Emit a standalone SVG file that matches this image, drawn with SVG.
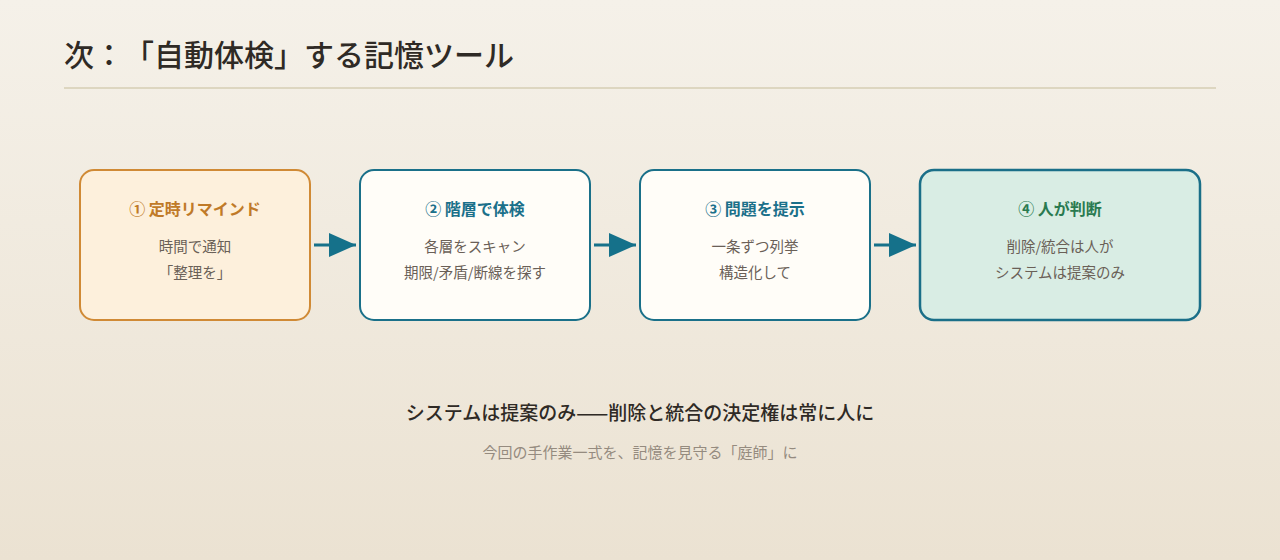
<svg xmlns="http://www.w3.org/2000/svg" width="1280" height="560" viewBox="0 0 1280 560">
<defs>
<linearGradient id="bg" x1="0" y1="0" x2="0" y2="1">
<stop offset="0" stop-color="#f5f1e9"/>
<stop offset="1" stop-color="#ebe2d2"/>
</linearGradient>
<marker id="ah2" markerWidth="27" markerHeight="24" refX="27" refY="12" orient="auto" markerUnits="userSpaceOnUse">
<path d="M0,0 L27,12 L0,24 z" fill="#15718a"/>
</marker>
<style>
text{font-family:"Noto Sans CJK JP","Noto Sans",sans-serif;text-spacing-trim:space-all;}
.title{font-size:30px;font-weight:500;fill:#2f2a25;}
.nt{font-size:16px;font-weight:700;text-anchor:middle;}
.nb{font-size:14.5px;fill:#6a6057;text-anchor:middle;}
.box{stroke-width:2;}
.conn{stroke:#15718a;stroke-width:3;fill:none;}
</style>
</defs>
<rect width="1280" height="560" fill="url(#bg)"/>
<g id="header">
<text class="title" x="64" y="66">次：「自動体検」する記憶ツール</text>
<line x1="64" y1="88" x2="1216" y2="88" stroke="#ddd6c0" stroke-width="2"/>
</g>
<g id="node1">
<rect class="box" x="80" y="170" width="230" height="150" rx="14" fill="#fdf0dc" stroke="#d08a35"/>
<text class="nt" x="195" y="215" fill="#c07a28">① 定時リマインド</text>
<text class="nb" x="195" y="252">時間で通知</text>
<text class="nb" x="195" y="278">「整理を」</text>
</g>
<g id="node2">
<rect class="box" x="360" y="170" width="230" height="150" rx="14" fill="#fffdf8" stroke="#1a7089"/>
<text class="nt" x="475" y="215" fill="#1b708a">② 階層で体検</text>
<text class="nb" x="475" y="252">各層をスキャン</text>
<text class="nb" x="475" y="278">期限/矛盾/断線を探す</text>
</g>
<g id="node3">
<rect class="box" x="640" y="170" width="230" height="150" rx="14" fill="#fffdf8" stroke="#1a7089"/>
<text class="nt" x="755" y="215" fill="#1b708a">③ 問題を提示</text>
<text class="nb" x="755" y="252">一条ずつ列挙</text>
<text class="nb" x="755" y="278">構造化して</text>
</g>
<g id="node4">
<rect x="920" y="170" width="280" height="150" rx="14" fill="#d9ede4" stroke="#1a6f88" stroke-width="2.5"/>
<text class="nt" x="1060" y="215" fill="#2a7a50">④ 人が判断</text>
<text class="nb" x="1060" y="252">削除/統合は人が</text>
<text class="nb" x="1060" y="278">システムは提案のみ</text>
</g>
<g id="connectors">
<line class="conn" x1="314" y1="245" x2="356" y2="245" marker-end="url(#ah2)"/>
<line class="conn" x1="594" y1="245" x2="636" y2="245" marker-end="url(#ah2)"/>
<line class="conn" x1="874" y1="245" x2="916" y2="245" marker-end="url(#ah2)"/>
</g>
<g id="footer">
<text x="640" y="420" text-anchor="middle" font-size="19" font-weight="500" fill="#2f2a25">システムは提案のみ——削除と統合の決定権は常に人に</text>
<text x="640" y="458" text-anchor="middle" font-size="15" fill="#958b7f">今回の手作業一式を、記憶を見守る「庭師」に</text>
</g>
</svg>
